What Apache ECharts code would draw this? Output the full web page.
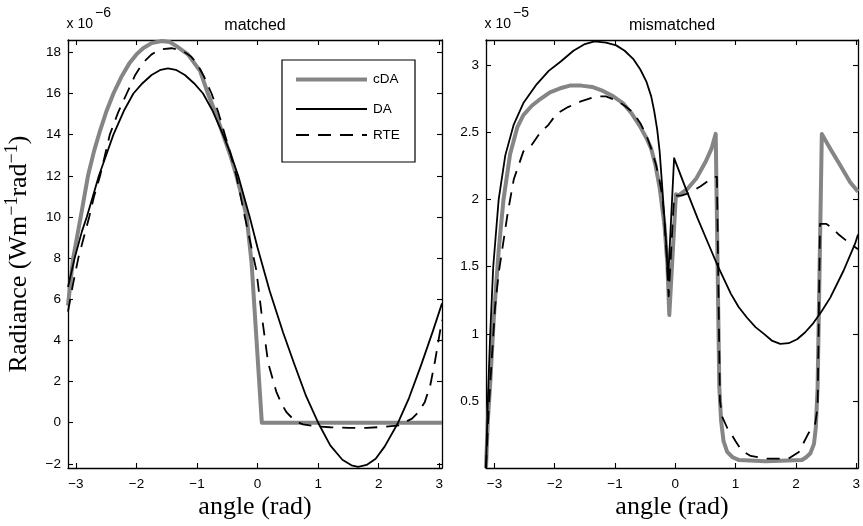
<!DOCTYPE html>
<html>
<head>
<meta charset="utf-8">
<script src="https://cdn.jsdelivr.net/npm/echarts@6/dist/echarts.min.js"></script>
<style>
  html, body { margin: 0; padding: 0; background: #fff; }
  #chart { width: 863px; height: 526px; }
</style>
</head>
<body>
<div id="chart"></div>
<script>
// ---------- matched case (radiance × 1e-6) ----------
const matchedCdaAngle = [-3.13, -3.05, -2.92, -2.80, -2.70, -2.60, -2.50, -2.38, -2.25, -2.11, -2.00, -1.89, -1.75, -1.58, -1.45, -1.34, -1.15, -0.95, -0.82, -0.70, -0.57, -0.45, -0.35, -0.26, -0.18, -0.10, 0.07, 3.045];
const matchedCdaValue = [5.7, 7.9, 10.0, 12.0, 13.2, 14.2, 15.1, 16.0, 16.8, 17.5, 17.9, 18.2, 18.45, 18.55, 18.5, 18.3, 17.9, 17.1, 16.0, 15.1, 14.0, 13.0, 12.0, 11.0, 10.0, 7.8, 0, 0];

const matchedDaAngle = [-3.13, -3.02, -2.90, -2.82, -2.72, -2.62, -2.50, -2.38, -2.20, -2.05, -1.90, -1.75, -1.60, -1.48, -1.35, -1.20, -1.05, -0.90, -0.75, -0.57, -0.45, -0.32, -0.13, 0.00, 0.20, 0.42, 0.60, 0.80, 1.00, 1.20, 1.40, 1.55, 1.66, 1.80, 1.95, 2.10, 2.32, 2.50, 2.70, 2.90, 3.045];
const matchedDaValue = [6.6, 8.0, 9.3, 10.0, 11.0, 12.0, 13.0, 14.0, 15.2, 16.0, 16.5, 16.9, 17.15, 17.22, 17.15, 16.9, 16.5, 16.0, 15.2, 14.0, 13.1, 12.0, 10.0, 8.5, 6.4, 4.4, 2.9, 1.3, 0.0, -1.1, -1.8, -2.07, -2.15, -2.05, -1.75, -1.15, 0.0, 1.2, 2.8, 4.5, 5.8];

const matchedRteAngle = [-3.13, -3.05, -2.96, -2.87, -2.78, -2.70, -2.60, -2.44, -2.30, -2.16, -2.02, -1.89, -1.75, -1.60, -1.42, -1.25, -1.10, -1.01, -0.88, -0.76, -0.65, -0.54, -0.45, -0.35, -0.21, -0.10, -0.02, 0.07, 0.175, 0.31, 0.40, 0.48, 0.62, 0.75, 0.92, 1.20, 1.50, 1.80, 2.10, 2.35, 2.45, 2.55, 2.65, 2.76, 2.85, 2.93, 3.045];
const matchedRteValue = [5.4, 6.7, 8.0, 9.0, 10.0, 11.0, 12.0, 14.0, 15.1, 16.0, 16.9, 17.5, 17.9, 18.15, 18.2, 18.1, 17.8, 17.5, 16.8, 16.0, 15.1, 14.0, 13.1, 12.0, 10.0, 8.5, 7.4, 5.2, 2.9, 1.5, 0.9, 0.5, 0.08, -0.08, -0.16, -0.22, -0.25, -0.25, -0.2, -0.12, 0.05, 0.2, 0.5, 1.0, 1.8, 3.0, 5.0];

// ---------- mismatched case (radiance × 1e-5) ----------
const mismatchedCdaAngle = [-3.14, -3.11, -3.07, -3.01, -2.93, -2.85, -2.74, -2.62, -2.52, -2.38, -2.24, -2.08, -1.91, -1.75, -1.56, -1.38, -1.20, -1.03, -0.87, -0.72, -0.59, -0.48, -0.40, -0.33, -0.26, -0.18, -0.13, -0.10, 0.01, 0.05, 0.20, 0.35, 0.50, 0.60, 0.67, 0.73, 0.76, 0.80, 0.86, 0.95, 1.05, 1.50, 2.10, 2.17, 2.24, 2.30, 2.33, 2.36, 2.43, 2.57, 2.73, 2.90, 3.03];
const mismatchedCdaValue = [0.0, 0.35, 0.63, 1.12, 1.62, 2.0, 2.34, 2.54, 2.63, 2.70, 2.75, 2.80, 2.83, 2.85, 2.85, 2.84, 2.81, 2.77, 2.72, 2.64, 2.55, 2.46, 2.38, 2.26, 2.09, 1.81, 1.51, 1.14, 2.04, 2.03, 2.08, 2.16, 2.28, 2.38, 2.49, 0.6, 0.35, 0.2, 0.12, 0.08, 0.06, 0.05, 0.06, 0.08, 0.11, 0.18, 0.3, 0.6, 2.49, 2.38, 2.26, 2.13, 2.06];

const mismatchedDaAngle = [-3.14, -3.11, -3.07, -3.02, -2.93, -2.82, -2.68, -2.52, -2.30, -2.10, -1.90, -1.69, -1.50, -1.34, -1.15, -0.98, -0.84, -0.70, -0.58, -0.48, -0.40, -0.35, -0.30, -0.26, -0.21, -0.15, -0.12, -0.02, 0.15, 0.37, 0.53, 0.70, 0.92, 1.05, 1.19, 1.33, 1.47, 1.60, 1.74, 1.88, 2.02, 2.15, 2.29, 2.43, 2.57, 2.79, 2.98, 3.03];
const mismatchedDaValue = [0.0, 0.5, 1.0, 1.5, 2.0, 2.33, 2.56, 2.72, 2.86, 2.96, 3.03, 3.11, 3.16, 3.18, 3.17, 3.15, 3.11, 3.05, 2.97, 2.88, 2.77, 2.66, 2.52, 2.36, 2.05, 1.66, 1.40, 2.31, 2.11, 1.86, 1.69, 1.51, 1.30, 1.20, 1.12, 1.05, 1.0, 0.95, 0.925, 0.93, 0.96, 1.01, 1.08, 1.17, 1.27, 1.47, 1.67, 1.74];

const mismatchedRteAngle = [-3.14, -3.10, -3.06, -2.99, -2.93, -2.84, -2.78, -2.68, -2.52, -2.38, -2.24, -2.10, -1.97, -1.78, -1.58, -1.31, -1.15, -0.98, -0.84, -0.70, -0.58, -0.48, -0.40, -0.32, -0.26, -0.21, -0.15, -0.11, -0.02, 0.10, 0.23, 0.42, 0.64, 0.69, 0.74, 0.78, 0.86, 0.92, 1.00, 1.10, 1.25, 1.50, 1.88, 2.05, 2.21, 2.32, 2.36, 2.40, 2.50, 2.60, 2.71, 2.85, 3.03];
const mismatchedRteValue = [0.0, 0.4, 0.7, 1.2, 1.45, 1.72, 1.9, 2.15, 2.36, 2.41, 2.5, 2.56, 2.64, 2.69, 2.73, 2.77, 2.77, 2.74, 2.7, 2.65, 2.57, 2.48, 2.38, 2.26, 2.14, 2.01, 1.64, 1.28, 2.03, 2.03, 2.05, 2.1, 2.17, 2.17, 0.5, 0.38, 0.3, 0.26, 0.2, 0.13, 0.09, 0.07, 0.07, 0.12, 0.26, 0.33, 0.45, 1.82, 1.82, 1.79, 1.74, 1.69, 1.63];

// ---------- axis extents and tick steps ----------
const matchedAngleRange = [-3.13, 3.045];
const matchedValueRange = [-2.2, 18.6];
const mismatchedAngleRange = [-3.14, 3.03];
const mismatchedValueRange = [0, 3.19];
const angleTickStep = 1;
const matchedTickStep = 2;
const mismatchedTickStep = 0.5;

const seriesNames = ['cDA', 'DA', 'RTE'];
const titles = ['matched', 'mismatched'];
const exponents = ['\u22126', '\u22125'];

// ---------- styling ----------
const SANS = '"Liberation Sans", Arial, Helvetica, sans-serif';
const SERIF = '"Liberation Serif", "Times New Roman", serif';
const GRAY = '#858585';
const MINUS = '\u2212';

const pairs = (xs, ys) => xs.map((x, i) => [x, ys[i]]);
const isMultiple = (v, step) => Math.abs(v / step - Math.round(v / step)) < 1e-6;
const fmtNum = v => {
  const r = Math.round(v * 1000) / 1000;
  return (r < 0 ? MINUS : '') + String(Math.abs(r));
};

function makeAxis(gridIndex, position, range, step, labels) {
  const horizontal = position === 'top' || position === 'bottom';
  return {
    type: 'value',
    gridIndex: gridIndex,
    position: position,
    min: range[0],
    max: range[1],
    minInterval: step,
    maxInterval: step,
    splitNumber: Math.round((range[1] - range[0]) / step),
    axisLine: { show: true, onZero: false, lineStyle: { color: '#000', width: 1.3 } },
    axisTick: { show: true, inside: true, length: 5, lineStyle: { color: '#000', width: 1.1 } },
    axisLabel: {
      show: labels,
      color: '#000',
      fontFamily: SANS,
      fontSize: 13.5,
      margin: horizontal ? 9 : 7,
      showMinLabel: false,
      showMaxLabel: false,
      formatter: v => (isMultiple(v, step) ? fmtNum(v) : '')
    },
    splitLine: { show: false }
  };
}

const xAxes = [
  makeAxis(0, 'bottom', matchedAngleRange, angleTickStep, true),
  makeAxis(0, 'top', matchedAngleRange, angleTickStep, false),
  makeAxis(1, 'bottom', mismatchedAngleRange, angleTickStep, true),
  makeAxis(1, 'top', mismatchedAngleRange, angleTickStep, false)
];
const yAxes = [
  makeAxis(0, 'left', matchedValueRange, matchedTickStep, true),
  makeAxis(0, 'right', matchedValueRange, matchedTickStep, false),
  makeAxis(1, 'left', mismatchedValueRange, mismatchedTickStep, true),
  makeAxis(1, 'right', mismatchedValueRange, mismatchedTickStep, false)
];

const styles = {
  cDA: { color: GRAY, width: 4, dash: null },
  DA: { color: '#000', width: 1.8, dash: null },
  RTE: { color: '#000', width: 1.8, dash: [13, 9] }
};

function lineSeries(name, panel, xs, ys) {
  const s = styles[name];
  return {
    name: name,
    type: 'line',
    xAxisIndex: panel * 2,
    yAxisIndex: panel * 2,
    data: pairs(xs, ys),
    symbol: 'none',
    showSymbol: false,
    smooth: false,
    clip: true,
    lineStyle: { color: s.color, width: s.width, type: s.dash || 'solid', cap: 'butt', join: 'round' },
    itemStyle: { color: s.color },
    emphasis: { disabled: true }
  };
}

const series = [
  lineSeries('cDA', 0, matchedCdaAngle, matchedCdaValue),
  lineSeries('DA', 0, matchedDaAngle, matchedDaValue),
  lineSeries('RTE', 0, matchedRteAngle, matchedRteValue),
  lineSeries('cDA', 1, mismatchedCdaAngle, mismatchedCdaValue),
  lineSeries('DA', 1, mismatchedDaAngle, mismatchedDaValue),
  lineSeries('RTE', 1, mismatchedRteAngle, mismatchedRteValue)
];

const grids = [
  { left: 68, width: 374, top: 40, bottom: 58, outerBoundsMode: 'none', containLabel: false },
  { left: 486, width: 372, top: 40, bottom: 58, outerBoundsMode: 'none', containLabel: false }
];
const panelCenters = [68 + 374 / 2, 486 + 372 / 2];
const panelLefts = [68, 486];

const graphics = [];
titles.forEach((t, i) => {
  graphics.push({
    type: 'text', x: panelCenters[i], y: 25.5, silent: true,
    style: { text: t, font: '16px ' + SANS, fill: '#000', align: 'center', verticalAlign: 'middle' }
  });
  graphics.push({
    type: 'text', x: panelLefts[i] - 1.5, y: 24.5, silent: true,
    style: { text: 'x 10', font: '14px ' + SANS, fill: '#000', align: 'left', verticalAlign: 'middle' }
  });
  graphics.push({
    type: 'text', x: panelLefts[i] + 27, y: 13.5, silent: true,
    style: { text: exponents[i], font: '14px ' + SANS, fill: '#000', align: 'left', verticalAlign: 'middle' }
  });
  graphics.push({
    type: 'text', x: panelCenters[i], y: 507.5, silent: true,
    style: { text: 'angle (rad)', font: '26px ' + SERIF, fill: '#000', align: 'center', verticalAlign: 'middle' }
  });
});
graphics.push({
  type: 'text', x: 19.5, y: 254, rotation: Math.PI / 2, silent: true,
  style: {
    text: '{n|Radiance (Wm}{s|' + MINUS + '1}{n|rad}{s|' + MINUS + '1}{n|)}',
    align: 'center', verticalAlign: 'middle', fill: '#000',
    rich: {
      n: { fontFamily: SERIF, fontSize: 26, lineHeight: 32, fill: '#000' },
      s: { fontFamily: SERIF, fontSize: 18, lineHeight: 18, verticalAlign: 'top', fill: '#000' }
    }
  }
});

// legend box: a key line and a name for each series
const legendBox = { x: 282, y: 60, width: 133, height: 102 };
const legendRows = [79.5, 109, 135];
graphics.push({
  type: 'rect', z: 10, silent: true,
  shape: legendBox,
  style: { fill: '#fff', stroke: '#000', lineWidth: 1.2 }
});
seriesNames.forEach((name, i) => {
  const s = styles[name];
  graphics.push({
    type: 'line', z: 11, silent: true,
    shape: { x1: 296, y1: legendRows[i], x2: 367, y2: legendRows[i] },
    style: { stroke: s.color, lineWidth: s.width, lineDash: s.dash || null, lineCap: 'butt' }
  });
  graphics.push({
    type: 'text', z: 11, silent: true, x: 373, y: legendRows[i],
    style: { text: name, font: '13.5px ' + SANS, fill: '#000', align: 'left', verticalAlign: 'middle' }
  });
});

const chart = echarts.init(document.getElementById('chart'), null, { renderer: 'canvas' });
chart.setOption({
  animation: false,
  backgroundColor: '#fff',
  grid: grids,
  xAxis: xAxes,
  yAxis: yAxes,
  graphic: graphics,
  series: series
});
</script>
</body>
</html>
